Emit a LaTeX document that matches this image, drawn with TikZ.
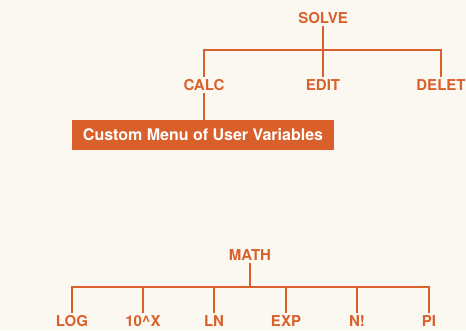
\documentclass[tikz,border=0pt]{standalone}
\usepackage{fontspec}
\setmainfont{TeX Gyre Heros}
\usetikzlibrary{positioning,calc}
\definecolor{menuorange}{RGB}{217,96,42}
\definecolor{paper}{RGB}{251,248,241}

\begin{document}
\begin{tikzpicture}[x=1pt,y=1pt,
	key/.style={text=menuorange, font=\fontsize{15}{15}\selectfont\bfseries, inner sep=0pt, outer sep=3pt, text height=10.8pt, text depth=0pt},
	menubox/.style={fill=menuorange, text=white, font=\fontsize{16}{16}\selectfont\bfseries, minimum width=262pt, minimum height=29pt, inner sep=0pt},
	wire/.style={draw=menuorange, line width=1.6pt}]
			\fill[paper] (0,0) rectangle (466,330);
			\useasboundingbox (0,0) rectangle (466,330);
			% solve menu
			\node[key] (solve) at (323,312) {SOLVE};
			\node[key] (calc) at (204,245) {CALC};
			\node[key] (edit) at (323,245) {EDIT};
			\node[key] (delet) at (441,245) {DELET};
			\node[menubox] (custom) at (203,195) {Custom Menu of User Variables};
			\coordinate (bus) at (0,280);
			\draw[wire] (solve.south) -- (solve |- bus);
			\draw[wire] (calc.north) -- (calc |- bus) -- (delet |- bus) -- (delet.north);
			\draw[wire] (edit.north) -- (edit |- bus);
			\draw[wire] (calc.south) -- (calc.south |- custom.north);
			% math menu
			\node[key] (math) at (250,75) {MATH};
			\node[key] (log) at (72,8.5) {LOG};
			\node[key] (tenx) at (143,8.5) {10\textasciicircum X};
			\node[key] (ln) at (214,8.5) {LN};
			\node[key] (exp) at (286,8.5) {EXP};
			\node[key] (nfact) at (357,8.5) {N!};
			\node[key] (pi) at (429,8.5) {PI};
			\coordinate (mbus) at (0,43);
			\draw[wire] (math.south) -- (math |- mbus);
			\draw[wire] (log.north) -- (log |- mbus) -- (pi |- mbus) -- (pi.north);
			\foreach \k in {tenx,ln,exp,nfact}
				\draw[wire] (\k.north) -- (\k |- mbus);
\end{tikzpicture}
\end{document}
